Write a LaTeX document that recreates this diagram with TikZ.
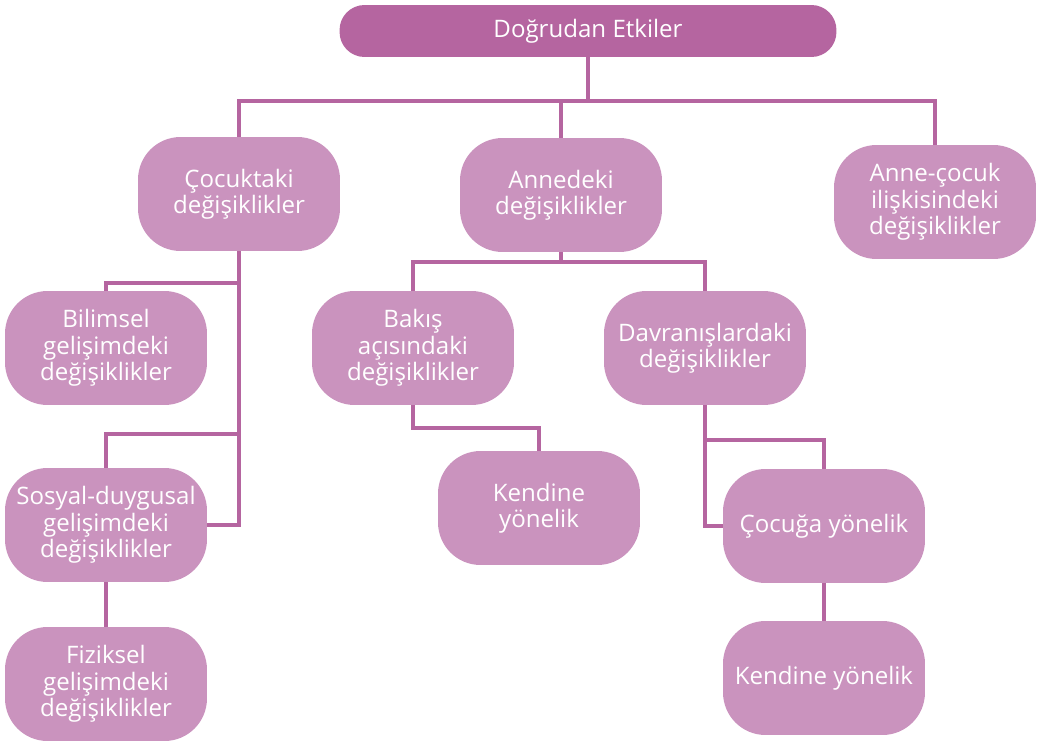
\documentclass[tikz,border=0pt]{standalone}
\usepackage{fontspec}
\setmainfont{Open Sans}
\usepackage{tikz}
\usetikzlibrary{positioning}
\definecolor{darkmauve}{RGB}{181,101,160}
\definecolor{lightmauve}{RGB}{202,147,190}

\begin{document}
\begin{tikzpicture}[x=0.02cm,y=-0.02cm,
    box node/.style={rectangle,rounded corners=0.85cm,fill=lightmauve,text=white,align=center,
      minimum width=4.04cm,minimum height=2.28cm,inner sep=2pt,font=\fontsize{13.7}{15}\selectfont},
    top node/.style={rectangle,rounded corners=0.5cm,fill=darkmauve,text=white,
      minimum width=9.94cm,minimum height=1.04cm,font=\fontsize{13.7}{15}\selectfont},
    link/.style={-,draw=darkmauve,line width=2.2pt}]
    \useasboundingbox (0,0) rectangle (1039,744);
    \begin{scope}
      \node[top node] (r) at (588,31) {Doğrudan Etkiler};
      \node[box node] (a) at (239,194) {Çocuktaki\\değişiklikler};
      \node[box node] (b) at (561,195) {Annedeki\\değişiklikler};
      \node[box node] (c) at (935,202) {Anne-çocuk\\ilişkisindeki\\değişiklikler};
      \node[box node] (a1) at (106,348) {Bilimsel\\gelişimdeki\\değişiklikler};
      \node[box node] (a2) at (106,525) {Sosyal-duygusal\\gelişimdeki\\değişiklikler};
      \node[box node] (a3) at (106,684) {Fiziksel\\gelişimdeki\\değişiklikler};
      \node[box node] (b1) at (413,348) {Bakış\\açısındaki\\değişiklikler};
      \node[box node] (b2) at (705,348) {Davranışlardaki\\değişiklikler};
      \node[box node] (b11) at (539,508) {Kendine\\yönelik};
      \node[box node] (b21) at (824,526) {Çocuğa yönelik};
      \node[box node] (b22) at (824,678) {Kendine yönelik};
      \coordinate (k0) at (588,101);
      \coordinate (ka) at (239,283);
      \coordinate (kb) at (239,434);
      \coordinate (kc) at (561,262);
      \coordinate (kd) at (413,428);
      \coordinate (ke) at (705,440);
%     \draw[help lines] (0,0) grid[step=50] (1039,744);
      \draw[link] (r) -- (k0);
      \draw[link] (a) |- (k0) -| (c);
      \draw[link] (b) -- (b |- k0);
      \draw[link] (a) |- (a2);
      \draw[link] (a1) |- (ka);
      \draw[link] (a2) |- (kb);
      \draw[link] (a2) -- (a3);
      \draw[link] (b) -- (kc);
      \draw[link] (b1) |- (kc) -| (b2);
      \draw[link] (b1.south) -- (kd) -| (b11);
      \draw[link] (b2) |- (b21);
      \draw[link] (ke) -| (b21);
      \draw[link] (b21) -- (b22);
    \end{scope}
  \end{tikzpicture}
\end{document}
